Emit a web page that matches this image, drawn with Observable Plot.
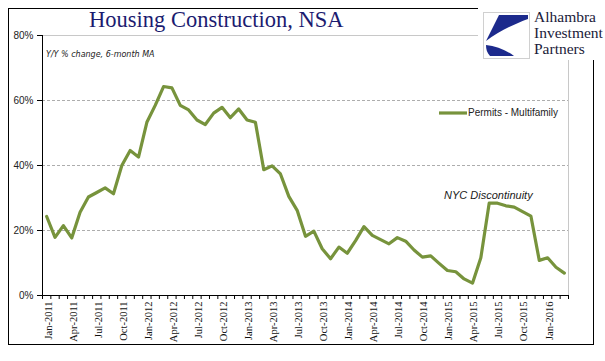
<!DOCTYPE html>
<html>
<head>
<meta charset="utf-8">
<script src="https://cdn.jsdelivr.net/npm/d3@7"></script>
<script src="https://cdn.jsdelivr.net/npm/@observablehq/plot@0.6"></script>
<style>
  html, body { margin: 0; padding: 0; background: #fff; }
  #wrap { position: relative; width: 605px; height: 361px; overflow: hidden; background: #fff; }
  #chart { position: absolute; left: 0; top: 0; }
  .abs { position: absolute; white-space: nowrap; }
</style>
</head>
<body>
<div id="wrap">
  <div id="chart"></div>
</div>
<script>
// ---- Data ----
const startMonth = "2011-01";
const seriesName = "Permits - Multifamily";
const values = [
  24.3, 17.9, 21.5, 17.7, 25.6, 30.3, 31.7, 33.1, 31.3, 40.0, 44.6, 42.6,
  53.3, 58.5, 64.3, 63.9, 58.5, 57.1, 54.0, 52.6, 56.1, 57.9, 54.7, 57.4,
  54.0, 53.3, 38.7, 39.9, 37.4, 30.5, 26.2, 18.2, 19.8, 14.4, 11.3, 14.9,
  13.0, 16.9, 21.2, 18.5, 17.2, 15.9, 17.8, 16.7, 14.0, 11.8, 12.2, 9.9,
  7.7, 7.3, 5.1, 3.8, 11.6, 28.4, 28.4, 27.6, 27.2, 25.8, 24.4, 10.8,
  11.6, 8.7, 6.9
];
const tickLabels = ["Jan-2011","Apr-2011","Jul-2011","Oct-2011","Jan-2012","Apr-2012","Jul-2012","Oct-2012",
  "Jan-2013","Apr-2013","Jul-2013","Oct-2013","Jan-2014","Apr-2014","Jul-2014","Oct-2014",
  "Jan-2015","Apr-2015","Jul-2015","Oct-2015","Jan-2016"];
const yTicks = [0, 20, 40, 60, 80];
const annotationText = ["NYC Discontinuity"];
const annotationX = [52.9];
const annotationY = [30.8];

// ---- Build table ----
const data = values.map((v, i) => ({ i, v }));
const labelIdx = tickLabels.map((_, k) => k * 3);
const boundaries = d3.range(values.length + 1).map(k => k - 0.5);
const annotations = annotationText.map((t, k) => ({ t, x: annotationX[k], y: annotationY[k] }));

const green = "#77933C";

const plot = Plot.plot({
  width: 605,
  height: 361,
  marginLeft: 42,
  marginRight: 37,
  marginTop: 35,
  marginBottom: 66,
  style: { background: "transparent", overflow: "visible" },
  x: { type: "linear", domain: [-0.5, values.length - 0.5] },
  y: { domain: [0, 80] },
  marks: [
    Plot.ruleY([20, 40, 60], { stroke: "#adadad", strokeDasharray: "3,2", strokeWidth: 1 }),
    Plot.ruleY([80], { stroke: "#c8c8c8", strokeWidth: 1 }),
    Plot.ruleX([values.length - 0.5], { stroke: "#c8c8c8", strokeWidth: 1 }),
    Plot.line(data, { x: "i", y: "v", stroke: green, strokeWidth: 3.2, strokeLinejoin: "round", strokeLinecap: "round" }),
    Plot.ruleX([-0.5], { stroke: "#000", strokeWidth: 1 }),
    Plot.ruleY([0], { stroke: "#000", strokeWidth: 1 }),
    Plot.axisY({ ticks: yTicks, tickFormat: d => d + "%", tickSize: 5, tickPadding: 4,
      fontSize: 10, fontFamily: "Liberation Sans, Arial, sans-serif", fill: "#222", label: null }),
    Plot.axisX({ ticks: boundaries, tickSize: 4, tickFormat: () => "", label: null }),
    Plot.axisX({ ticks: labelIdx, tickSize: 0, tickPadding: 6, tickRotate: -90, dx: 1.5,
      tickFormat: i => tickLabels[i / 3], fontSize: 10.5, fontFamily: "Liberation Serif, Times New Roman, serif",
      fill: "#111", label: null }),
    Plot.text(annotations, { x: "x", y: "y", text: "t", fontSize: 11, fontStyle: "italic",
      fontFamily: "Liberation Sans, Arial, sans-serif", fill: "#1a1a1a" })
  ]
});
document.getElementById("chart").appendChild(plot);

// ---- Decorations (frame, title, subtitle, legend, logo) ----
const wrap = document.getElementById("wrap");
const svgNS = "http://www.w3.org/2000/svg";
const deco = document.createElementNS(svgNS, "svg");
deco.setAttribute("width", 605);
deco.setAttribute("height", 361);
deco.setAttribute("style", "position:absolute;left:0;top:0;");
deco.innerHTML = `
  <rect x="8.5" y="8.5" width="585" height="336" fill="none" stroke="#000" stroke-width="1"/>
  <rect x="478" y="0" width="127" height="60" fill="#fff"/>
  <rect x="483.5" y="12.5" width="46" height="46" fill="#fff" stroke="#d0d0d0" stroke-width="1"/>
  <path d="M499 15 L528 15 L528 19 C514 24 498 32 486 41 Z" fill="#1c2a8c"/>
  <path d="M486 45 C496 46 506 50 514 56 L490 56 C487 53 486 49 486 45 Z" fill="#1c2a8c"/>
  <line x1="439" y1="113" x2="467" y2="113" stroke="${green}" stroke-width="3.2"/>
`;
wrap.appendChild(deco);

function addText(txt, css) {
  const d = document.createElement("div");
  d.className = "abs";
  d.textContent = txt;
  d.setAttribute("style", css);
  wrap.appendChild(d);
  return d;
}
addText("Housing Construction, NSA",
  "left:89px;top:7px;font-family:'Liberation Serif','Times New Roman',serif;font-size:22.5px;color:#1b1b70;line-height:26px;");
addText("Y/Y % change, 6-month MA",
  "left:46px;top:50px;font-family:'DejaVu Sans',Verdana,sans-serif;font-style:italic;font-size:8px;color:#222;line-height:10px;");
addText(seriesName,
  "left:468px;top:107px;font-family:'Liberation Sans',Arial,sans-serif;font-size:10px;color:#222;line-height:12px;");
addText("Alhambra",
  "left:534px;top:9px;font-family:'Liberation Serif','Times New Roman',serif;font-size:15.5px;color:#1b1b3a;line-height:16px;");
addText("Investment",
  "left:534px;top:25px;font-family:'Liberation Serif','Times New Roman',serif;font-size:15.5px;color:#1b1b3a;line-height:16px;");
addText("Partners",
  "left:534px;top:41px;font-family:'Liberation Serif','Times New Roman',serif;font-size:15.5px;color:#1b1b3a;line-height:16px;");
</script>
</body>
</html>
